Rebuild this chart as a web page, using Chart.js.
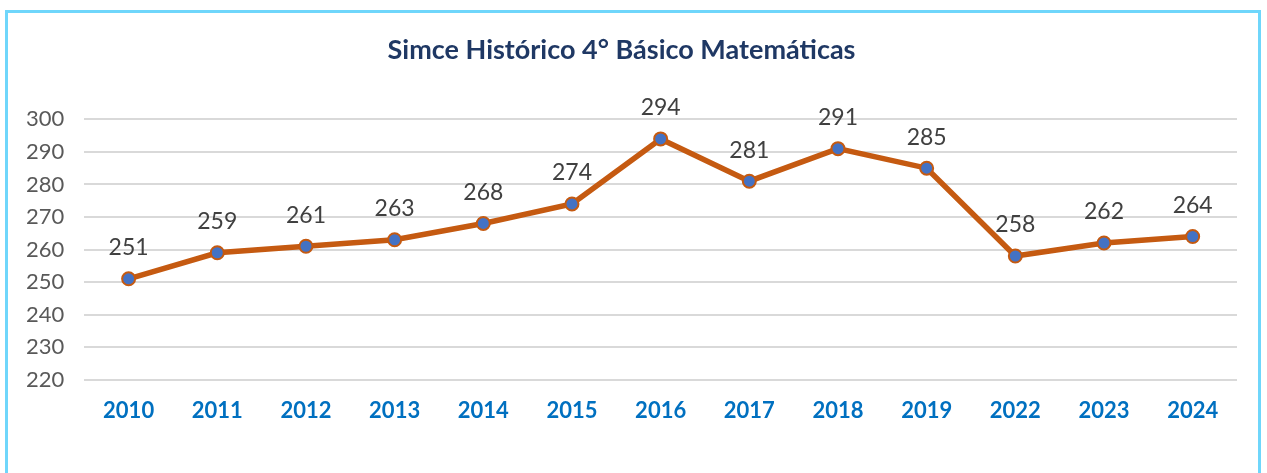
<!DOCTYPE html>
<html>
<head>
<meta charset="utf-8">
<script src="https://cdn.jsdelivr.net/npm/chart.js@4"></script>
<style>
  html, body { margin: 0; padding: 0; background: #fff; }
  #wrap { position: relative; width: 1267px; height: 473px; overflow: hidden; }
  #frame {
    position: absolute; left: 5px; top: 10px; width: 1256px; height: 480px;
    border: 3px solid #6fd6fb; box-sizing: border-box;
  }
  canvas { position: absolute; left: 0; top: 0; }
</style>
</head>
<body>
<div id="wrap">
  <div id="frame"></div>
  <canvas id="chart" width="1267" height="473"></canvas>
</div>
<script>
const years = ['2010', '2011', '2012', '2013', '2014', '2015', '2016', '2017', '2018', '2019', '2022', '2023', '2024'];
const scores = [251, 259, 261, 263, 268, 274, 294, 281, 291, 285, 258, 262, 264];
const yTicks = [220, 230, 240, 250, 260, 270, 280, 290, 300];

const FONT = 'Lato, "Open Sans", sans-serif';

// value labels above each point
const valueLabels = {
  id: 'valueLabels',
  afterDatasetsDraw(chart) {
    const ctx = chart.ctx;
    const meta = chart.getDatasetMeta(0);
    ctx.save();
    ctx.font = '23px ' + FONT;
    ctx.fillStyle = '#404040';
    ctx.textAlign = 'center';
    ctx.textBaseline = 'middle';
    meta.data.forEach((pt, i) => {
      ctx.fillText(String(scores[i]), pt.x, pt.y - 31);
    });
    ctx.restore();
  },
};

new Chart(document.getElementById('chart'), {
  type: 'line',
  data: {
    labels: years,
    datasets: [{
      data: scores,
      borderColor: '#c55a11',
      borderWidth: 5.5,
      pointBackgroundColor: '#4472c4',
      pointBorderColor: '#c55a11',
      pointBorderWidth: 2,
      pointRadius: 6.5,
      tension: 0,
    }],
  },
  options: {
    responsive: false,
    animation: false,
    layout: { padding: { left: 6, right: 30, top: 34, bottom: 39 } },
    plugins: {
      legend: { display: false },
      tooltip: { enabled: false },
      title: {
        display: true,
        text: 'Simce Histórico 4° Básico Matemáticas',
        color: '#1f3864',
        font: { family: FONT, size: 27, weight: 'bold' },
        padding: { top: 0, bottom: 53 },
      },
    },
    scales: {
      x: {
        offset: true,
        grid: { display: false },
        border: { display: false },
        ticks: {
          color: '#0070c0',
          font: { family: FONT, size: 22, weight: 'bold' },
          padding: 10,
        },
      },
      y: {
        min: 220,
        max: 300,
        afterBuildTicks: (axis) => { axis.ticks = yTicks.map(v => ({ value: v })); },
        grid: { color: '#d9d9d9', lineWidth: 2, drawTicks: false },
        border: { display: false },
        ticks: {
          color: '#595959',
          font: { family: FONT, size: 22 },
          padding: 20,
        },
      },
    },
  },
  plugins: [valueLabels],
});
</script>
</body>
</html>
